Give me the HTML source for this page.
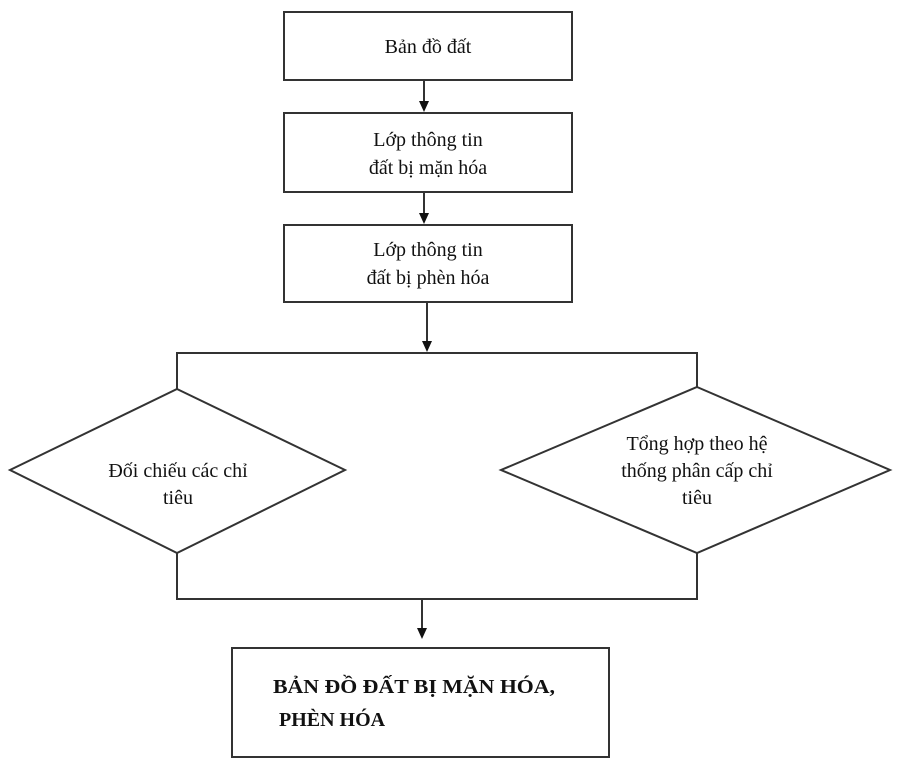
<!DOCTYPE html>
<html><head><meta charset="utf-8"><style>
html,body{margin:0;padding:0;background:#fff;}
svg{display:block;}
text{font-family:"Liberation Serif",serif;font-size:20px;fill:#111;}
</style></head><body>
<svg width="899" height="767" viewBox="0 0 899 767" xmlns="http://www.w3.org/2000/svg">
<g stroke="#333" stroke-width="2" fill="none">
<rect x="284" y="12" width="288" height="68"/>
<rect x="284" y="113" width="288" height="79"/>
<rect x="284" y="225" width="288" height="77"/>
<rect x="232" y="648" width="377" height="109"/>
<line x1="424" y1="80" x2="424" y2="103"/>
<line x1="424" y1="192" x2="424" y2="215"/>
<line x1="427" y1="302" x2="427" y2="343"/>
<polyline points="177,389 177,353 697,353 697,387"/>
<polygon points="177,389 345,470 177,553 10,470"/>
<polygon points="697,387 890,470 697,553 501,470"/>
<polyline points="177,553 177,599 697,599 697,553"/>
<line x1="422" y1="599" x2="422" y2="630"/>
</g>
<g fill="#111">
<polygon points="419,101 429,101 424,112"/>
<polygon points="419,213 429,213 424,224"/>
<polygon points="422,341 432,341 427,352"/>
<polygon points="417,628 427,628 422,639"/>
</g>
<text x="428" y="53" text-anchor="middle">Bản đồ đất</text>
<text x="428" y="146" text-anchor="middle">Lớp thông tin</text>
<text x="428" y="174" text-anchor="middle">đất bị mặn hóa</text>
<text x="428" y="256" text-anchor="middle">Lớp thông tin</text>
<text x="428" y="284" text-anchor="middle">đất bị phèn hóa</text>
<text x="178" y="477" text-anchor="middle">Đối chiếu các chỉ</text>
<text x="178" y="504" text-anchor="middle">tiêu</text>
<text x="697" y="450" text-anchor="middle">Tổng hợp theo hệ</text>
<text x="697" y="477" text-anchor="middle">thống phân cấp chỉ</text>
<text x="697" y="504" text-anchor="middle">tiêu</text>
<text x="273" y="693" font-weight="bold" textLength="282" lengthAdjust="spacingAndGlyphs">BẢN ĐỒ ĐẤT BỊ MẶN HÓA,</text>
<text x="279" y="726" font-weight="bold">PHÈN HÓA</text>
</svg>
</body></html>
